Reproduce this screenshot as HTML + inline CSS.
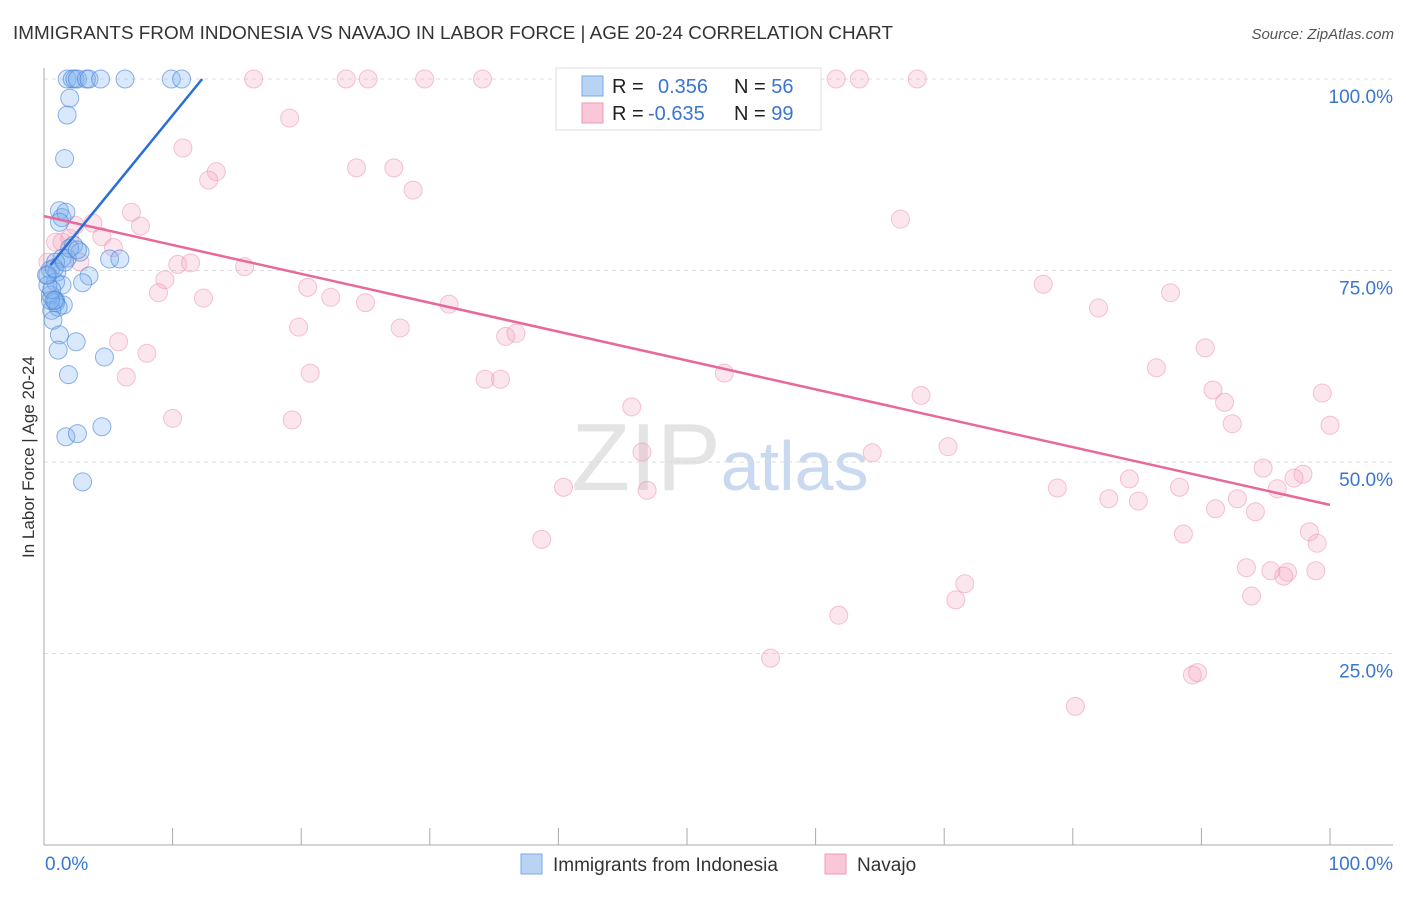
<!DOCTYPE html>
<html><head><meta charset="utf-8"><style>
body{margin:0;background:#fff;font-family:"Liberation Sans",sans-serif;}
svg text{font-family:"Liberation Sans",sans-serif;}
</style></head><body>
<svg id="chart" width="1406" height="892" xmlns="http://www.w3.org/2000/svg">
<text x="13" y="39" font-size="18" fill="#333" textLength="880" lengthAdjust="spacingAndGlyphs">IMMIGRANTS FROM INDONESIA VS NAVAJO IN LABOR FORCE | AGE 20-24 CORRELATION CHART</text>
<text x="1394" y="39" font-size="15" fill="#555" text-anchor="end" font-style="italic">Source: ZipAtlas.com</text>
<text transform="translate(34,457) rotate(-90)" font-size="17" fill="#333" text-anchor="middle">In Labor Force | Age 20-24</text>
<text x="720" y="490" font-size="96" fill="#e4e4e4" text-anchor="middle" font-family="Liberation Serif">ZIP<tspan fill="#c9d9ef" font-family="Liberation Sans" font-size="70">atlas</tspan></text>
<g id="grid"></g><g id="pts"></g><g id="lines"></g>
<g>
<rect x="556" y="68" width="265" height="62" fill="#fff" stroke="#ddd"/>
<rect x="582" y="76" width="21" height="20" fill="#b9d3f4" stroke="#7aa8e6"/>
<rect x="582" y="103" width="21" height="20" fill="#f9c7d7" stroke="#ef9ab8"/>
<text x="612" y="93" font-size="20" fill="#222">R = <tspan fill="#3a75d0" x="658">0.356</tspan><tspan x="734" fill="#222">N = </tspan><tspan fill="#3a75d0">56</tspan></text>
<text x="612" y="120" font-size="20" fill="#222">R = <tspan fill="#3a75d0" x="648">-0.635</tspan><tspan x="734" fill="#222">N = </tspan><tspan fill="#3a75d0">99</tspan></text>
</g>
<g>
<rect x="521" y="854" width="21" height="20" fill="#b9d3f4" stroke="#7aa8e6"/>
<text x="553" y="871" font-size="19" fill="#333">Immigrants from Indonesia</text>
<rect x="825" y="854" width="21" height="20" fill="#f9c7d7" stroke="#ef9ab8"/>
<text x="857" y="871" font-size="19" fill="#333">Navajo</text>
</g>
</svg>
<script>
const yTicks=[25,50,75,100];
const yTickLabels=["25.0%","50.0%","75.0%","100.0%"];
const xTickLabels=["0.0%","100.0%"];
const blueX=[1.8,2.2,2.4,2.6,3.3,3.5,4.4,6.3,9.9,10.7,2.0,1.8,1.6,1.2,1.4,1.7,1.2,2.3,2.8,1.8,1.4,0.9,0.5,0.3,1.0,0.9,1.4,3.5,3.0,5.1,5.9,0.9,1.5,0.5,0.6,0.9,1.1,0.7,1.2,1.1,2.5,4.7,1.9,4.5,1.7,2.6,3.0,0.3,0.5,0.6,0.2,0.8,1.6,2.0,2.6,0.8];
const blueY=[100,100,100,100,100,100,100,100,100,100,97.5,95.3,89.6,82.8,81.9,82.6,81.3,78.3,77.4,76.6,76.6,76.1,75.1,74.4,74.8,73.5,73.1,74.3,73.4,76.5,76.5,71.1,70.5,71.8,69.8,70.8,70.2,68.5,66.6,64.6,65.7,63.7,61.4,54.6,53.3,53.7,47.4,73.1,71.1,72.5,74.4,75.3,76.1,77.9,77.7,71.1];
const pinkX=[16.3,23.5,25.2,29.6,34.1,53.1,61.6,63.4,67.9,19.1,10.8,13.4,12.8,24.3,27.2,28.7,66.6,6.8,7.5,3.8,2.4,0.9,2.0,4.5,5.4,2.8,10.4,11.4,15.6,9.4,8.9,12.4,20.5,22.3,25.0,31.5,19.8,27.7,35.9,36.7,5.8,8.0,6.4,20.7,34.3,35.5,52.9,77.7,82.0,87.6,90.3,86.5,90.9,91.8,92.4,99.4,100,68.2,45.7,46.5,70.3,64.4,10.0,19.3,40.4,46.9,94.8,97.9,97.2,95.9,78.8,84.4,88.3,82.8,85.1,92.8,91.1,94.2,98.4,99.0,88.6,38.7,93.5,95.4,96.7,98.9,96.4,93.9,71.6,70.9,61.8,56.5,89.3,89.7,80.2,0.3,1.4];
const pinkY=[100,100,100,100,100,100,100,100,100,94.9,91.0,87.9,86.8,88.4,88.4,85.5,81.7,82.6,80.8,81.2,80.9,78.7,79.2,79.4,78.0,76.1,75.8,76.0,75.5,73.8,72.1,71.4,72.8,71.5,70.8,70.6,67.6,67.5,66.4,66.8,65.7,64.2,61.1,61.6,60.8,60.8,61.6,73.2,70.1,72.1,64.9,62.3,59.4,57.8,55.0,59.0,54.8,58.7,57.2,51.3,52.0,51.2,55.7,55.5,46.7,46.3,49.2,48.4,47.9,46.5,46.6,47.8,46.7,45.2,44.9,45.2,43.9,43.5,40.9,39.4,40.6,39.9,36.2,35.8,35.6,35.8,35.1,32.5,34.1,32.0,30.0,24.4,22.2,22.5,18.1,76.1,78.7];
const blueLine=[[0.5,75.7],[12.3,100]];
const pinkLine=[[0,82.1],[100,44.4]];
const NS="http://www.w3.org/2000/svg";
const X=v=>44+v*12.86, Y=v=>845-v*7.66;
function mk(tag,attrs,parent){const e=document.createElementNS(NS,tag);for(const k in attrs)e.setAttribute(k,attrs[k]);parent.appendChild(e);return e;}
const grid=document.getElementById('grid');
yTicks.forEach((t,i)=>{
 const l=mk('line',{x1:44,x2:1393,y1:Y(t),y2:Y(t),stroke:'#ddd','stroke-dasharray':'4,4'},grid);
 
 
 const tx=mk('text',{x:1393,y:Y(t)+24,'font-size':19,fill:'#3a75d0','text-anchor':'end'},grid);
 tx.textContent=yTickLabels[i];
 
 
});
const ax=mk('line',{x1:44,x2:44,y1:68,y2:845,stroke:'#aaa'},grid);


const bx=mk('line',{x1:44,x2:1393,y1:845,y2:845,stroke:'#aaa'},grid);


for(let i=0;i<=10;i++){const t=mk('line',{x1:X(i*10),x2:X(i*10),y1:828,y2:845,stroke:'#aaa'},grid);
 
 }
[[0,'start',45],[100,'end',1393]].forEach((d,i)=>{const t=mk('text',{x:d[2],y:870,'font-size':19,fill:'#3a75d0','text-anchor':d[1]},grid);t.textContent=xTickLabels[i];
 
 });
const pts=document.getElementById('pts');
pinkX.forEach((x,i)=>{const c=mk('circle',{cx:X(x),cy:Y(pinkY[i]),r:9,fill:'rgba(246,165,192,0.28)',stroke:'rgba(236,140,172,0.5)'},pts);
 
 });
blueX.forEach((x,i)=>{const c=mk('circle',{cx:X(x),cy:Y(blueY[i]),r:9,fill:'rgba(130,178,238,0.3)',stroke:'rgba(70,130,215,0.6)'},pts);
 
 });
const lines=document.getElementById('lines');
const pl=mk('line',{x1:X(pinkLine[0][0]),y1:Y(pinkLine[0][1]),x2:X(pinkLine[1][0]),y2:Y(pinkLine[1][1]),stroke:'#e8689a','stroke-width':2.5},lines);


const bl=mk('line',{x1:X(blueLine[0][0]),y1:Y(blueLine[0][1]),x2:X(blueLine[1][0]),y2:Y(blueLine[1][1]),stroke:'#2a6fd6','stroke-width':2.5},lines);


</script>
</body></html>
